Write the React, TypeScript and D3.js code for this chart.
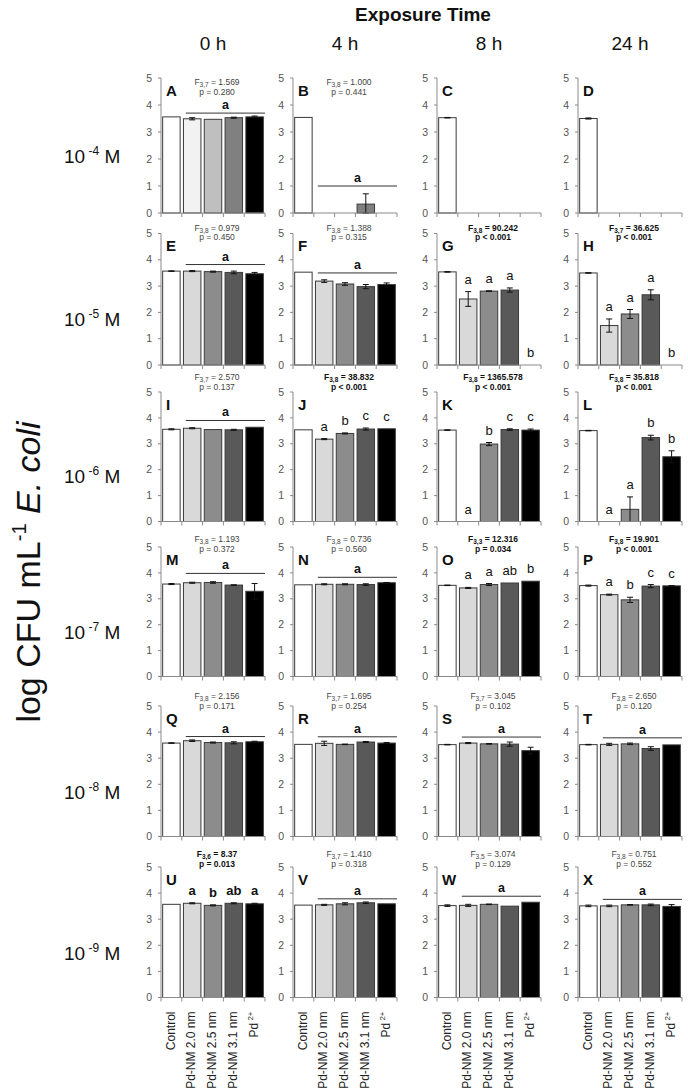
import React from "react";
import * as d3 from "d3";

const W = 688;
const H = 1088;
const FONT = "'Liberation Sans', Arial, sans-serif";

const groups = ["Control", "Pd-NM 2.0 nm", "Pd-NM 2.5 nm", "Pd-NM 3.1 nm", "Pd2+"];
const times = ["0 h", "4 h", "8 h", "24 h"];
const concentrations = ["-4", "-5", "-6", "-7", "-8", "-9"];
const panelLabels = "ABCDEFGHIJKLMNOPQRSTUVWX".split("");

// mean log CFU per panel, row by row (concentration) then time; null = no bar
const means = [
  [3.56, 3.49, 3.47, 3.53, 3.56],
  [3.54, null, null, 0.33, null],
  [3.53, null, null, null, null],
  [3.5, null, null, null, null],
  [3.57, 3.57, 3.55, 3.52, 3.47],
  [3.53, 3.19, 3.08, 2.98, 3.06],
  [3.54, 2.51, 2.81, 2.85, 0],
  [3.5, 1.5, 1.94, 2.67, 0],
  [3.56, 3.6, 3.55, 3.54, 3.64],
  [3.54, 3.18, 3.4, 3.57, 3.58],
  [3.53, 0, 2.99, 3.55, 3.53],
  [3.51, 0, 0.47, 3.24, 2.5],
  [3.57, 3.62, 3.63, 3.53, 3.29],
  [3.54, 3.56, 3.56, 3.55, 3.62],
  [3.52, 3.42, 3.55, 3.61, 3.68],
  [3.51, 3.16, 2.96, 3.49, 3.5],
  [3.58, 3.67, 3.6, 3.59, 3.63],
  [3.53, 3.57, 3.53, 3.62, 3.58],
  [3.52, 3.58, 3.55, 3.54, 3.29],
  [3.52, 3.53, 3.55, 3.37, 3.51],
  [3.57, 3.61, 3.53, 3.61, 3.59],
  [3.54, 3.55, 3.59, 3.63, 3.59],
  [3.52, 3.53, 3.57, 3.5, 3.65],
  [3.51, 3.51, 3.55, 3.55, 3.49],
];

const errors = [
  [0, 0.04, 0, 0.02, 0.03],
  [0, 0, 0, 0.38, 0],
  [0.01, 0, 0, 0, 0],
  [0.02, 0, 0, 0, 0],
  [0.01, 0.02, 0.02, 0.05, 0.05],
  [0, 0.05, 0.05, 0.08, 0.06],
  [0.01, 0.28, 0.01, 0.08, 0],
  [0.01, 0.25, 0.17, 0.19, 0],
  [0.02, 0.02, 0, 0.02, 0],
  [0, 0.02, 0.02, 0.04, 0],
  [0.01, 0, 0.06, 0.03, 0.04],
  [0.01, 0, 0.48, 0.09, 0.23],
  [0.02, 0.02, 0.03, 0.01, 0.3],
  [0, 0.02, 0.02, 0.03, 0.01],
  [0.01, 0.02, 0.04, 0, 0],
  [0.02, 0.02, 0.1, 0.06, 0.01],
  [0.01, 0.03, 0.02, 0.04, 0.02],
  [0, 0.08, 0.01, 0.02, 0.02],
  [0.01, 0.02, 0.01, 0.08, 0.13],
  [0.01, 0.04, 0.03, 0.07, 0],
  [0, 0.02, 0.02, 0.02, 0.02],
  [0, 0.02, 0.04, 0.03, 0],
  [0.03, 0.04, 0.01, 0, 0],
  [0.03, 0.03, 0.01, 0.03, 0.07],
];

const dfs = ["3,7", "3,8", "", "", "3,8", "3,8", "3,8", "3,7", "3,7", "3,8", "3,8", "3,8",
  "3,8", "3,8", "3,3", "3,8", "3,8", "3,7", "3,7", "3,8", "3,6", "3,7", "3,5", "3,8"];
const fValues = ["1.569", "1.000", "", "", "0.979", "1.388", "90.242", "36.625", "2.570", "38.832",
  "1365.578", "35.818", "1.193", "0.736", "12.316", "19.901", "2.156", "1.695", "3.045", "2.650",
  "8.37", "1.410", "3.074", "0.751"];
const pValues = ["p = 0.280", "p = 0.441", "", "", "p = 0.450", "p = 0.315", "p < 0.001", "p < 0.001",
  "p = 0.137", "p < 0.001", "p < 0.001", "p < 0.001", "p = 0.372", "p = 0.560", "p = 0.034",
  "p < 0.001", "p = 0.171", "p = 0.254", "p = 0.102", "p = 0.120", "p = 0.013", "p = 0.318",
  "p = 0.129", "p = 0.552"];
const significant = [false, false, false, false, false, false, true, true, false, true, true, true,
  false, false, true, true, false, false, false, false, true, false, false, false];

// level of the shared "a" line over treatments (null = letters per bar)
const groupLine = [3.7, 1.0, null, null, 3.82, 3.5, null, null, 3.9, null, null, null,
  3.98, 3.83, null, null, 3.83, 3.82, 3.81, 3.78, null, 3.78, 3.88, 3.76];

const letters = [
  null, null, null, null, null, null,
  ["", "a", "a", "a", "b"], ["", "a", "a", "a", "b"],
  null, ["", "a", "b", "c", "c"], ["", "a", "b", "c", "c"], ["", "a", "a", "b", "b"],
  null, null, ["", "a", "a", "ab", "b"], ["", "a", "b", "c", "c"],
  null, null, null, null,
  ["", "a", "b", "ab", "a"], null, null, null,
];

const colLeft = [161, 293, 437, 578];
const panelW = 104;
const rowTop = [78, 233.5, 392, 547, 706, 867];
const rowBottom = [213, 365, 521.5, 676.5, 836.5, 997.5];
const statOffset = [7, -3, -12, -5, -7, -10];
const rowLabelY = [157, 320, 477, 633, 793, 954];

const fillsTop = ["#ffffff", "#f2f2f2", "#bfbfbf", "#808080", "#000000"];
const fills = ["#ffffff", "#d9d9d9", "#8c8c8c", "#595959", "#000000"];

function Panel({ idx }: { idx: number }) {
  const r = Math.floor(idx / 4);
  const c = idx % 4;
  const left = colLeft[c];
  const top = rowTop[r];
  const bottom = rowBottom[r];
  const x = d3.scaleBand<string>().domain(groups).range([left, left + panelW])
    .paddingInner(0.16).paddingOuter(0.08);
  const y = d3.scaleLinear().domain([0, 5]).range([bottom, top]);
  const step = x.step();
  const bw = x.bandwidth();
  const pal = r === 0 ? fillsTop : fills;
  const vals = means[idx];
  const errs = errors[idx];
  const boundaries = d3.range(groups.length + 1).map((i) => left + (i * panelW) / groups.length);
  const bold = significant[idx];
  const statColor = bold ? "#111" : "#444";
  const cx = left + 56;
  const fy = top + statOffset[r];
  const lvl = groupLine[idx];
  const lets = letters[idx];

  return (
    <g>
      {vals.map((v, i) =>
        v != null && v > 0 ? (
          <rect key={"b" + i} x={x(groups[i])} y={y(v)} width={bw} height={y(0) - y(v)}
            fill={pal[i]} stroke="#3a3a3a" strokeWidth={1} />
        ) : null
      )}
      {vals.map((v, i) => {
        const e = errs[i];
        if (v == null || !(v > 0) || e <= 0) return null;
        const mx = (x(groups[i]) as number) + bw / 2;
        const y1 = y(v + e);
        const y2 = y(Math.max(0, v - e));
        return (
          <g key={"e" + i} stroke="#111" strokeWidth={1}>
            <line x1={mx} x2={mx} y1={y1} y2={y2} />
            <line x1={mx - 3} x2={mx + 3} y1={y1} y2={y1} />
            <line x1={mx - 3} x2={mx + 3} y1={y2} y2={y2} />
          </g>
        );
      })}
      <g stroke="#8a8a8a" strokeWidth={1} fill="none">
        <line x1={left} x2={left} y1={top} y2={bottom} />
        <line x1={left} x2={left + panelW} y1={bottom} y2={bottom} />
        {y.ticks(5).map((t) => (
          <line key={"yt" + t} x1={left - 3} x2={left} y1={y(t)} y2={y(t)} />
        ))}
        {boundaries.map((bx, i) => (
          <line key={"xt" + i} x1={bx} x2={bx} y1={bottom} y2={bottom + 4} />
        ))}
      </g>
      {y.ticks(5).map((t) => (
        <text key={"yl" + t} x={left - 9} y={y(t)} dy="0.35em" textAnchor="end"
          fontSize={10.5} fill="#555" fontFamily={FONT}>{t}</text>
      ))}
      <text x={left + 5} y={top + 17.5} fontSize={15} fontWeight="bold" fill="#111"
        fontFamily={FONT}>{panelLabels[idx]}</text>
      {fValues[idx] ? (
        <g fontFamily={FONT} fontSize={8.5} fill={statColor} fontWeight={bold ? "bold" : "normal"}
          textAnchor="middle">
          <text x={cx} y={fy}>
            <tspan>F</tspan>
            <tspan fontSize={6.5} dy={2}>{dfs[idx]}</tspan>
            <tspan dy={-2}>{" = " + fValues[idx]}</tspan>
          </text>
          <text x={cx} y={fy + 9.5}>{pValues[idx]}</text>
        </g>
      ) : null}
      {lvl != null ? (
        <g>
          <line x1={left + step + 4} x2={left + panelW} y1={y(lvl)} y2={y(lvl)}
            stroke="#333" strokeWidth={1} />
          <text x={(left + step + 4 + left + panelW) / 2} y={y(lvl) - 4} textAnchor="middle"
            fontSize={12.5} fontWeight="bold" fill="#111" fontFamily={FONT}>a</text>
        </g>
      ) : null}
      {lets
        ? lets.map((l, i) => {
            if (!l) return null;
            const v = vals[i] ?? 0;
            const topV = v > 0 ? v + errs[i] : 0;
            const ly = v > 0 ? y(topV) - 8 : y(0) - 8;
            return (
              <text key={"l" + i} x={(x(groups[i]) as number) + bw / 2} y={ly} textAnchor="middle"
                fontSize={13} fontWeight={idx === 20 ? "bold" : "normal"} fill="#111"
                fontFamily={FONT}>{l}</text>
            );
          })
        : null}
      {r === 5
        ? groups.map((g, i) => {
            const gx = (x(g) as number) + bw / 2 - 1;
            const gy = bottom + 14;
            return (
              <text key={"g" + i} transform={`translate(${gx},${gy}) rotate(-90)`} dy="0.35em"
                textAnchor="end" fontSize={12} fill="#222" fontFamily={FONT}>
                {g === "Pd2+" ? (
                  <>
                    <tspan>Pd</tspan>
                    <tspan fontSize={8} dy={-5}>{" 2+"}</tspan>
                  </>
                ) : g}
              </text>
            );
          })
        : null}
    </g>
  );
}

export default function App() {
  return (
    <svg width={W} height={H} style={{ position: "absolute", left: 0, top: 0, background: "#fff" }}
      fontFamily={FONT}>
      <rect width={W} height={H} fill="#fff" />
      <text x={423} y={21} textAnchor="middle" fontSize={19} fontWeight="bold" fill="#111">
        Exposure Time
      </text>
      {times.map((t, i) => (
        <text key={t} x={colLeft[i] + panelW / 2} y={50} textAnchor="middle" fontSize={19} fill="#111">
          {t}
        </text>
      ))}
      {concentrations.map((cstr, r) => (
        <text key={cstr} x={64} y={rowLabelY[r] + 6} fontSize={19} fill="#111">
          <tspan>10</tspan>
          <tspan fontSize={12} dy={-8}>{" " + cstr}</tspan>
          <tspan dy={8}>{" M"}</tspan>
        </text>
      ))}
      <text transform={`translate(40,572) rotate(-90)`} textAnchor="middle" fontSize={34} fill="#111">
        <tspan>log CFU mL</tspan>
        <tspan fontSize={20} dy={-14}>-1</tspan>
        <tspan dy={14}> </tspan>
        <tspan fontStyle="italic">E. coli</tspan>
      </text>
      {panelLabels.map((_, i) => (
        <Panel key={i} idx={i} />
      ))}
    </svg>
  );
}
